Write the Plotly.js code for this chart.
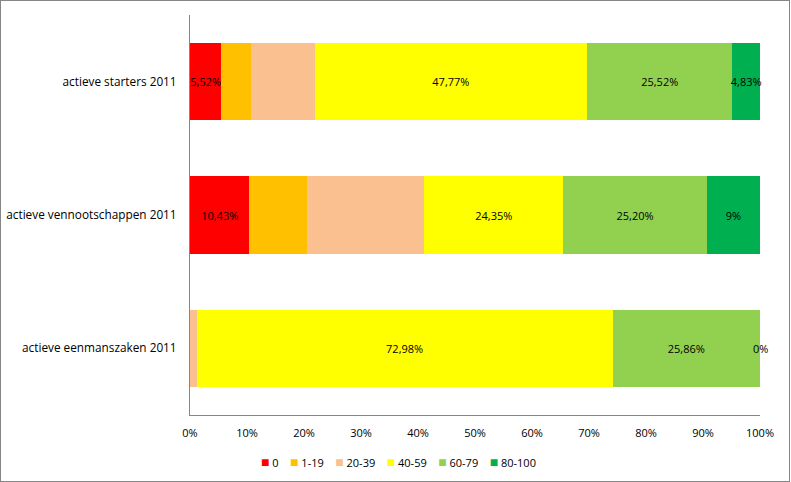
<!DOCTYPE html>
<html><head><meta charset="utf-8">
<script src="https://cdn.plot.ly/plotly-3.0.1.min.js"></script>
<style>
html,body{margin:0;padding:0;background:#fff}
#chart{width:791px;height:482px}
#frame{position:absolute;left:0;top:0;width:790px;height:482px;box-sizing:border-box;border:1px solid #868686;pointer-events:none}
</style>
</head><body><div id="chart"></div><div id="frame"></div>
<script>
const categories = ["actieve starters 2011", "actieve vennootschappen 2011", "actieve eenmanszaken 2011"];
const seriesNames = ["0", "1-19", "20-39", "40-59", "60-79", "80-100"];
const v0 = [5.52, 10.43, 0];
const v1_19 = [5.10, 10.10, 0];
const v20_39 = [11.26, 20.60, 1.16];
const v40_59 = [47.77, 24.35, 72.98];
const v60_79 = [25.52, 25.20, 25.86];
const v80_100 = [4.83, 9.32, 0];
const labels0 = ["5,52%", "10,43%", ""];
const labels1_19 = ["", "", ""];
const labels20_39 = ["", "", ""];
const labels40_59 = ["47,77%", "24,35%", "72,98%"];
const labels60_79 = ["25,52%", "25,20%", "25,86%"];
const labels80_100 = ["4,83%", "9%", "0%"];
const colors = ["#FF0000", "#FFC000", "#FAC090", "#FFFF00", "#92D050", "#00B050"];
const xTicks = [0, 10, 20, 30, 40, 50, 60, 70, 80, 90, 100];

const values = [v0, v1_19, v20_39, v40_59, v60_79, v80_100];
const labels = [labels0, labels1_19, labels20_39, labels40_59, labels60_79, labels80_100];
const FONT = "Open Sans, Liberation Sans, Arial, sans-serif";
const txtFont = {family: FONT, size: 11, color: "#000"};

const traces = values.map((v, i) => ({
  type: "bar",
  orientation: "h",
  name: seriesNames[i],
  y: categories,
  x: v,
  text: labels[i],
  textposition: "inside",
  insidetextanchor: "middle",
  textangle: 0,
  constraintext: "none",
  cliponaxis: false,
  textfont: txtFont,
  marker: {color: colors[i], line: {width: 0}},
  hoverinfo: "skip"
}));

// labels on zero-length segments are placed at the stack position through the axis scale
const annotations = [];
values.forEach((v, i) => {
  v.forEach((val, j) => {
    if (val === 0 && labels[i][j]) {
      let pos = 0;
      for (let k = 0; k <= i; k++) pos += values[k][j];
      annotations.push({x: pos, y: categories[j], xref: "x", yref: "y",
        text: labels[i][j], showarrow: false, font: txtFont,
        xanchor: "center", yanchor: "middle"});
    }
  });
});

const legendText = seriesNames.map((n, i) =>
  `<span style="color:${colors[i]};font-size:14px">■</span>&nbsp;${n}`).join("&nbsp;&nbsp;&nbsp;&nbsp;");
annotations.push({
  xref: "paper", yref: "paper", x: 0.365, y: -0.115,
  xanchor: "center", yanchor: "middle", showarrow: false,
  text: legendText, font: txtFont
});

const layout = {
  width: 791, height: 482,
  margin: {l: 190, r: 31, t: 15, b: 67},
  barmode: "stack",
  bargap: 0.42,
  showlegend: false,
  paper_bgcolor: "#fff", plot_bgcolor: "#fff",
  font: txtFont,
  xaxis: {
    range: [0, 100], tickvals: xTicks, ticktext: xTicks.map(t => t + "%"),
    showgrid: false, zeroline: false, showline: true, linecolor: "#868686", linewidth: 1,
    ticks: "outside", ticklen: 8, tickcolor: "rgba(0,0,0,0)",
    tickfont: txtFont, fixedrange: true
  },
  yaxis: {
    type: "category", autorange: "reversed",
    showgrid: false, zeroline: false, showline: true, linecolor: "#868686", linewidth: 1,
    ticks: "outside", ticklen: 10, tickcolor: "rgba(0,0,0,0)",
    tickfont: {family: FONT, size: 11.8, color: "#000"}, fixedrange: true
  },
  annotations: annotations
};

Plotly.newPlot("chart", traces, layout, {displayModeBar: false, staticPlot: true});
</script>
</body></html>
